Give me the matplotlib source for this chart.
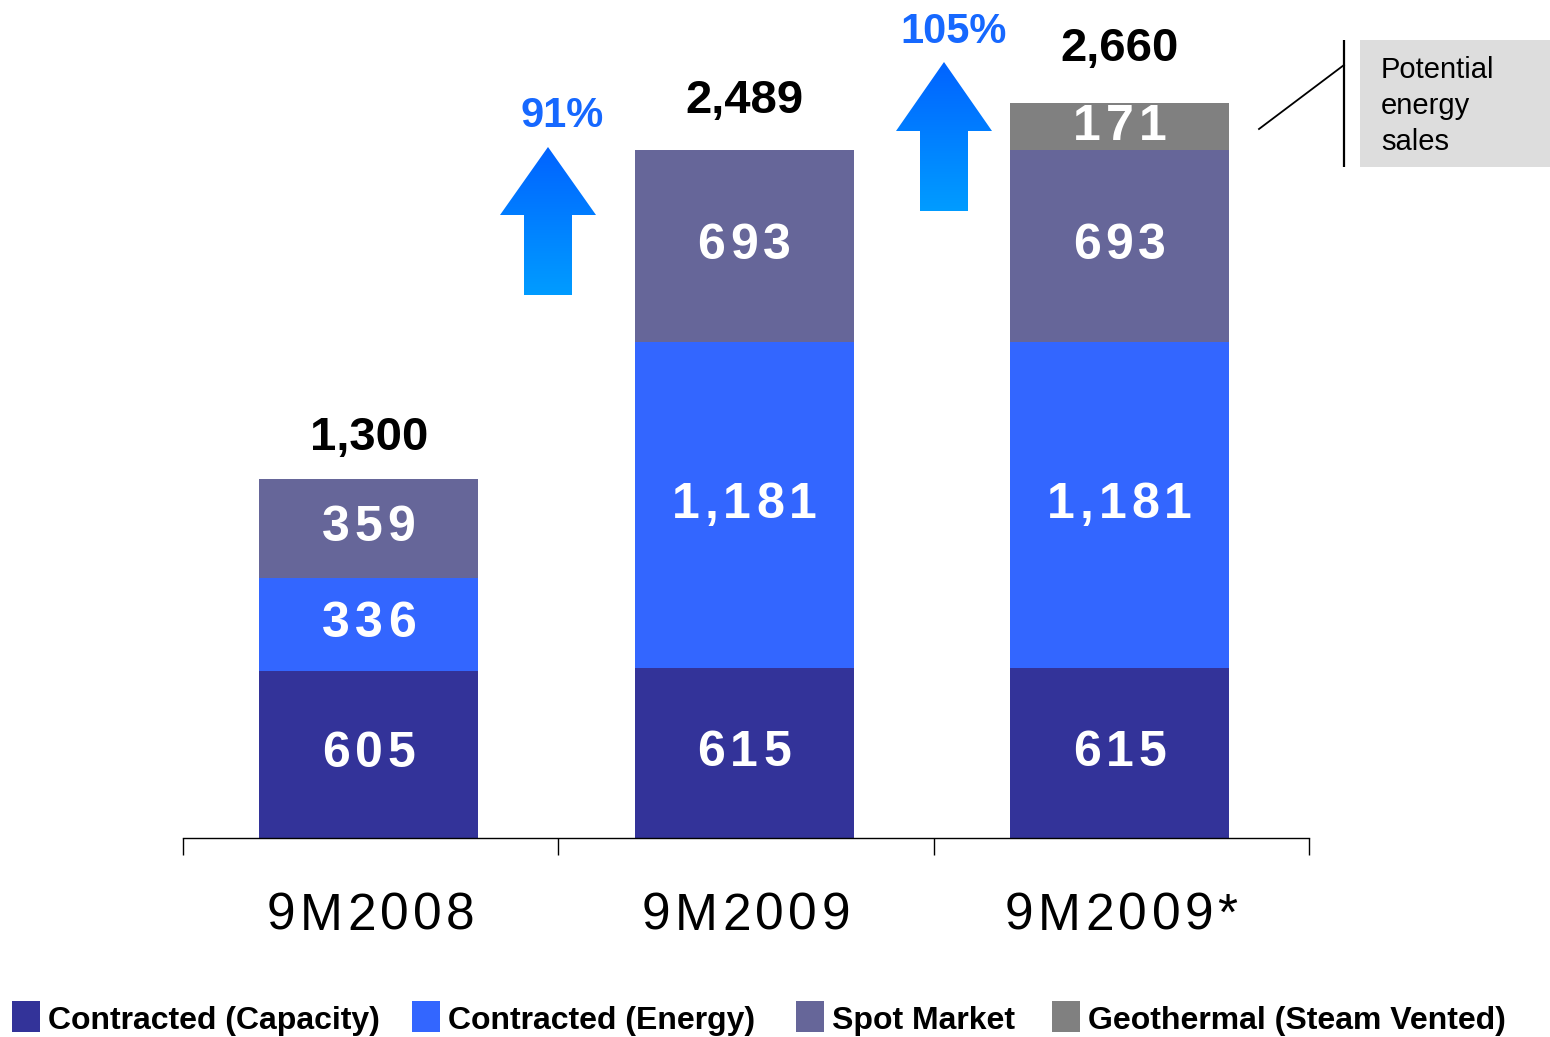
import matplotlib
matplotlib.use("Agg")
import matplotlib.pyplot as plt
import matplotlib.transforms as mtransforms
from matplotlib import font_manager
from matplotlib.patches import Rectangle, Polygon
from matplotlib.colors import LinearSegmentedColormap
import numpy as np

# ---- data -------------------------------------------------------------
categories = ["9M2008", "9M2009", "9M2009*"]
capacity = [605, 615, 615]
energy = [336, 1181, 1181]
spot = [359, 693, 693]
geothermal = [0, 0, 171]
totals = [1300, 2489, 2660]
growth_labels = ["91%", "105%"]
series_names = ["Contracted (Capacity)", "Contracted (Energy)",
                "Spot Market", "Geothermal (Steam Vented)"]
callout_text = "Potential\nenergy\nsales"

colors = ["#333399", "#3366FF", "#666699", "#808080"]

# ---- figure setup -----------------------------------------------------
DPI = 100
FW, FH = 1550, 1037
fig = plt.figure(figsize=(FW / DPI, FH / DPI), dpi=DPI)
fig.patch.set_facecolor("white")

BASE = "Liberation Sans"
names = {f.name for f in font_manager.fontManager.ttflist}
narrow = "Liberation Sans Narrow" in names
LEG_FAMILY = "Liberation Sans Narrow" if narrow else BASE
LEG_SIZE = 28 if narrow else 23

ax = fig.add_axes([183 / FW, 1 - 838 / FH, 1126 / FW, 838 / FH])
ax.set_xlim(-0.5, 2.5)
ax.set_ylim(0, 3033)

x = np.arange(len(categories))
bar_x = x - 0.005
bar_w = 0.584

# Liberation Sans advance widths (em units)
ADV_BOLD = {",": 0.278}
ADV_REG = {"M": 0.833, "*": 0.389, ",": 0.278}


def spaced_text(axis, xc, yc, s, size, spacing_px, weight="bold",
                va="center", dy_px=0, transform=None, **kw):
    """Draw text centred at (xc, yc) with extra letter spacing."""
    table = ADV_BOLD if weight == "bold" else ADV_REG
    base_tr = axis.transData if transform is None else transform
    em = size * DPI / 72.0
    advs = [table.get(ch, 0.556) * em for ch in s]
    total = sum(advs) + spacing_px * (len(s) - 1)
    pos = -total / 2.0
    for ch, a in zip(s, advs):
        tr = mtransforms.offset_copy(base_tr, fig=axis.figure,
                                     x=pos + a / 2.0, y=dy_px, units="dots")
        axis.text(xc, yc, ch, transform=tr, ha="center", va=va,
                  family=BASE, fontweight=weight, fontsize=size,
                  clip_on=False, **kw)
        pos += a + spacing_px


series = [capacity, energy, spot, geothermal]
bottom = np.zeros(len(categories))
for vals, col in zip(series, colors):
    vals = np.array(vals, dtype=float)
    ax.bar(bar_x, vals, bar_w, bottom=bottom, color=col, linewidth=0, zorder=2)
    for xi, b, v in zip(bar_x, bottom, vals):
        if v > 0:
            spaced_text(ax, xi, b + v / 2.0, f"{int(v):,}", 36, 5,
                        color="white", zorder=4)
    bottom += vals

# totals above each stack
label_gap_pt = [21, 27, 30]
for xi, t, g in zip(bar_x, totals, label_gap_pt):
    ax.annotate(f"{t:,}", (xi, t), xytext=(0, g), textcoords="offset points",
                ha="center", va="baseline", family=BASE, fontweight="bold",
                fontsize=34, color="black")

# axis styling
for side in ("left", "right", "top"):
    ax.spines[side].set_visible(False)
ax.spines["bottom"].set_color("black")
ax.spines["bottom"].set_linewidth(1.0)
ax.set_yticks([])
ax.set_xticks(x)
ax.set_xticklabels([])
ax.tick_params(axis="x", which="major", length=0)
ax.set_xticks([-0.5, 0.5, 1.5, 2.5], minor=True)
ax.tick_params(axis="x", which="minor", length=12, width=1.0,
               direction="out", color="black")
ax.patch.set_alpha(0)

# category names, letter-spaced, below the axis
for xi, cat in zip(x, categories):
    spaced_text(ax, xi, 0, cat, 37, 4.5, weight="normal", va="baseline",
                dy_px=-92, transform=ax.get_xaxis_transform(), color="black")

# ---- overlay in pixel coordinates for annotations -----------------------
ov = fig.add_axes([0, 0, 1, 1])
ov.axis("off")

grad = LinearSegmentedColormap.from_list("arrowgrad", ["#0063FF", "#009CFF"])


def up_arrow(cx, top, head_base, bot, head_w=96, shaft_w=48):
    hw, sw = head_w / 2.0, shaft_w / 2.0
    verts = [(cx, top), (cx + hw, head_base), (cx + sw, head_base),
             (cx + sw, bot), (cx - sw, bot), (cx - sw, head_base),
             (cx - hw, head_base)]
    poly = Polygon(verts, closed=True, facecolor="none", edgecolor="none")
    ov.add_patch(poly)
    im = ov.imshow(np.linspace(0, 1, 256).reshape(-1, 1), cmap=grad,
                   extent=(cx - hw, cx + hw, bot, top), aspect="auto",
                   interpolation="bilinear", zorder=3)
    im.set_clip_path(poly)


up_arrow(548, 147, 215, 295)
up_arrow(944, 62, 131, 211)

ov.text(562, 127, growth_labels[0], ha="center", va="baseline", family=BASE,
        fontweight="bold", fontsize=30, color="#1668FF")
ov.text(954, 43, growth_labels[1], ha="center", va="baseline", family=BASE,
        fontweight="bold", fontsize=30, color="#1668FF")

# callout for the potential energy sales
ov.add_patch(Rectangle((1360, 40), 190, 127, facecolor="#DDDDDD",
                       edgecolor="none", zorder=2))
ov.plot([1344, 1344], [40, 167], color="black", lw=1.6, zorder=3,
        solid_capstyle="butt")
ov.plot([1259, 1344], [129, 65], color="black", lw=1.3, zorder=3)
ov.text(1381, 56, callout_text, ha="left", va="top", family=BASE,
        fontsize=21, linespacing=1.36, color="black", zorder=4)

# legend row
leg_boxes = [12, 412, 796, 1052]
for bx, col, name in zip(leg_boxes, colors, series_names):
    ov.add_patch(Rectangle((bx, 1001), 28, 31, facecolor=col,
                           edgecolor="none", zorder=2))
    ov.text(bx + 36, 1029, name, ha="left", va="baseline",
            family=LEG_FAMILY, fontweight="bold", fontsize=LEG_SIZE,
            color="black")

ov.set_xlim(0, FW)
ov.set_ylim(FH, 0)

fig.savefig("out.png", dpi=DPI, facecolor="white")
